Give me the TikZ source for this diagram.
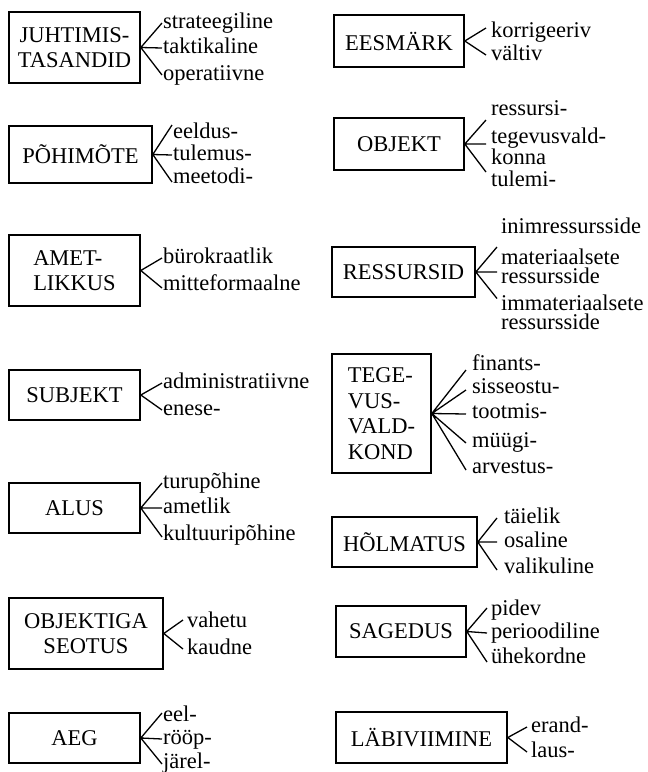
\documentclass[tikz,border=0pt]{standalone}
\usepackage{fontspec}
\setmainfont{Liberation Serif}
\usetikzlibrary{positioning}
\newcommand{\boxfont}{\fontsize{22.5}{25.5}\selectfont}
\newcommand{\tightfont}{\fontsize{22.5}{19}\selectfont}
\tikzset{
  catbox/.style={draw,rectangle,line width=1.6pt,inner sep=0pt,align=center,font=\boxfont},
  lbl/.style={anchor=west,inner sep=0pt,text height=16pt,text depth=5pt,font=\boxfont},
  lbltwo/.style={anchor=west,inner sep=0pt,align=left,font=\tightfont},
  fork/.style={line width=1.3pt}
}
\begin{document}
\begin{tikzpicture}[x=1pt,y=-1pt]
  \useasboundingbox (0,0) rectangle (648,772);

  % left column
  \node[catbox,minimum width=131,minimum height=71] (juht) at (74.5,47.5) {JUHTIMIS-\\TASANDID};
  \node[lbl] (strat) at (163,23) {strateegiline};
  \node[lbl] (takt) at (163,48) {taktikaline};
  \node[lbl] (oper) at (163,75) {operatiivne};
  \draw[fork] (juht.east) -- ([xshift=-1pt]strat.west)
              (juht.east) -- ([xshift=-1pt]takt.west)
              (juht.east) -- ([xshift=-1pt]oper.west);

  \node[catbox,minimum width=143,minimum height=57] (poh) at (80.5,154.5) {PÕHIMÕTE};
  \node[lbl] (eeld) at (173,133) {eeldus-};
  \node[lbl] (tulem) at (173,155) {tulemus-};
  \node[lbl] (meet) at (173,178) {meetodi-};
  \draw[fork] (poh.east) -- ([xshift=-1pt,yshift=8pt]eeld.west)
              (poh.east) -- ([xshift=-1pt]tulem.west)
              (poh.east) -- ([xshift=-1pt,yshift=-4pt]meet.west);

  \node[catbox,align=left,minimum width=131,minimum height=71] (amet) at (74.5,270.5) {AMET-\\LIKKUS};
  \node[lbl] (byro) at (163,258) {bürokraatlik};
  \node[lbl] (mitte) at (163,285) {mitteformaalne};
  \draw[fork] (amet.east) -- ([xshift=-1pt]byro.west)
              (amet.east) -- ([xshift=-1pt,yshift=-3pt]mitte.west);

  \node[catbox,minimum width=131,minimum height=50] (subj) at (74.5,395) {SUBJEKT};
  \node[lbl] (admin) at (163,383) {administratiivne};
  \node[lbl] (enese) at (163,410) {enese-};
  \draw[fork] (subj.east) -- ([xshift=-1pt]admin.west)
              (subj.east) -- ([xshift=-1pt]enese.west);

  \node[catbox,minimum width=131,minimum height=50] (alus) at (74.5,508) {ALUS};
  \node[lbl] (turu) at (163,483) {turupõhine};
  \node[lbl] (ametl) at (163,508) {ametlik};
  \node[lbl] (kult) at (163,535) {kultuuripõhine};
  \draw[fork] (alus.east) -- ([xshift=-1pt]turu.west)
              (alus.east) -- ([xshift=-1pt]ametl.west)
              (alus.east) -- ([xshift=-1pt,yshift=-2pt]kult.west);

  \node[catbox,minimum width=154,minimum height=71] (objs) at (86,633.5) {OBJEKTIGA\\SEOTUS};
  \node[lbl] (vahe) at (187,622) {vahetu};
  \node[lbl] (kaud) at (187,649) {kaudne};
  \draw[fork] (objs.east) -- ([xshift=-4pt,yshift=2pt]vahe.west)
              (objs.east) -- ([xshift=-4pt]kaud.west);

  \node[catbox,minimum width=131,minimum height=50] (aeg) at (74.5,738) {AEG};
  \node[lbl] (eel) at (163,716) {eel-};
  \node[lbl] (roop) at (163,739) {rööp-};
  \node[lbl] (jarel) at (163,763) {järel-};
  \draw[fork] (aeg.east) -- ([xshift=-1pt,yshift=3pt]eel.west)
              (aeg.east) -- ([xshift=-1pt]roop.west)
              (aeg.east) -- ([xshift=-1pt,yshift=-1pt]jarel.west);

  % right column
  \node[catbox,minimum width=130,minimum height=52] (eesm) at (399,41) {EESMÄRK};
  \node[lbl] (korr) at (491,32) {korrigeeriv};
  \node[lbl] (valt) at (491,55) {vältiv};
  \draw[fork] (eesm.east) -- ([xshift=-5pt,yshift=4pt]korr.west)
              (eesm.east) -- ([xshift=-5pt]valt.west);

  \node[catbox,minimum width=130,minimum height=52] (obj) at (399,144) {OBJEKT};
  \node[lbl] (ress) at (491,110) {ressursi-};
  \node[lbltwo] (tege) at (491,146.5) {tegevusvald-\\konna};
  \node[lbl] (tulemi) at (491,181) {tulemi-};
  \draw[fork] (obj.east) -- ([xshift=-5pt,yshift=-10pt]ress.west)
              (obj.east) -- ([xshift=-5pt,yshift=2.5pt]tege.west)
              (obj.east) -- ([xshift=-5pt,yshift=9pt]tulemi.west);

  \node[catbox,minimum width=143,minimum height=50] (ressid) at (403.5,272) {RESSURSID};
  \node[lbl] (inim) at (501,228) {inimressursside};
  \node[lbltwo] (mater) at (501,266) {materiaalsete\\ressursside};
  \node[lbltwo] (immat) at (501,312.5) {immateriaalsete\\ressursside};
  \draw[fork] (ressid.east) -- ([xshift=-4pt,yshift=-19pt]inim.west)
              (ressid.east) -- ([xshift=-4pt,yshift=-6pt]mater.west)
              (ressid.east) -- ([xshift=-4pt,yshift=14pt]immat.west);

  \node[catbox,align=left,minimum width=99,minimum height=119] (teg) at (381.5,413.5) {TEGE-\\VUS-\\VALD-\\KOND};
  \node[lbl] (fin) at (472,365) {finants-};
  \node[lbl] (sisse) at (472,388) {sisseostu-};
  \node[lbl] (toot) at (472,413) {tootmis-};
  \node[lbl] (myyg) at (472,442) {müügi-};
  \node[lbl] (arv) at (472,468) {arvestus-};
  \draw[fork] (teg.east) -- ([xshift=-6pt,yshift=-5pt]fin.west)
              (teg.east) -- ([xshift=-6pt,yshift=-2pt]sisse.west)
              (teg.east) -- ([xshift=-6pt,yshift=-1pt]toot.west)
              (teg.east) -- ([xshift=-6pt,yshift=-1pt]myyg.west)
              (teg.east) -- ([xshift=-6pt,yshift=-2pt]arv.west);

  \node[catbox,minimum width=145,minimum height=50] (holm) at (404.5,542) {HÕLMATUS};
  \node[lbl] (taie) at (504,518) {täielik};
  \node[lbl] (osal) at (504,542) {osaline};
  \node[lbl] (vali) at (504,568) {valikuline};
  \draw[fork] (holm.east) -- ([xshift=-7pt]taie.west)
              (holm.east) -- ([xshift=-7pt]osal.west)
              (holm.east) -- ([xshift=-7pt,yshift=-2pt]vali.west);

  \node[catbox,minimum width=130,minimum height=51] (sag) at (401,631.5) {SAGEDUS};
  \node[lbl] (pid) at (491,610) {pidev};
  \node[lbl] (peri) at (491,633) {perioodiline};
  \node[lbl] (yhek) at (491,658) {ühekordne};
  \draw[fork] (sag.east) -- ([xshift=-4pt,yshift=2pt]pid.west)
              (sag.east) -- ([xshift=-4pt]peri.west)
              (sag.east) -- ([xshift=-4pt,yshift=-4pt]yhek.west);

  \node[catbox,minimum width=171,minimum height=51] (labi) at (421.5,737.5) {LÄBIVIIMINE};
  \node[lbl] (erand) at (531,727) {erand-};
  \node[lbl] (laus) at (531,752) {laus-};
  \draw[fork] (labi.east) -- ([xshift=-4pt]erand.west)
              (labi.east) -- ([xshift=-4pt]laus.west);
\end{tikzpicture}
\end{document}
